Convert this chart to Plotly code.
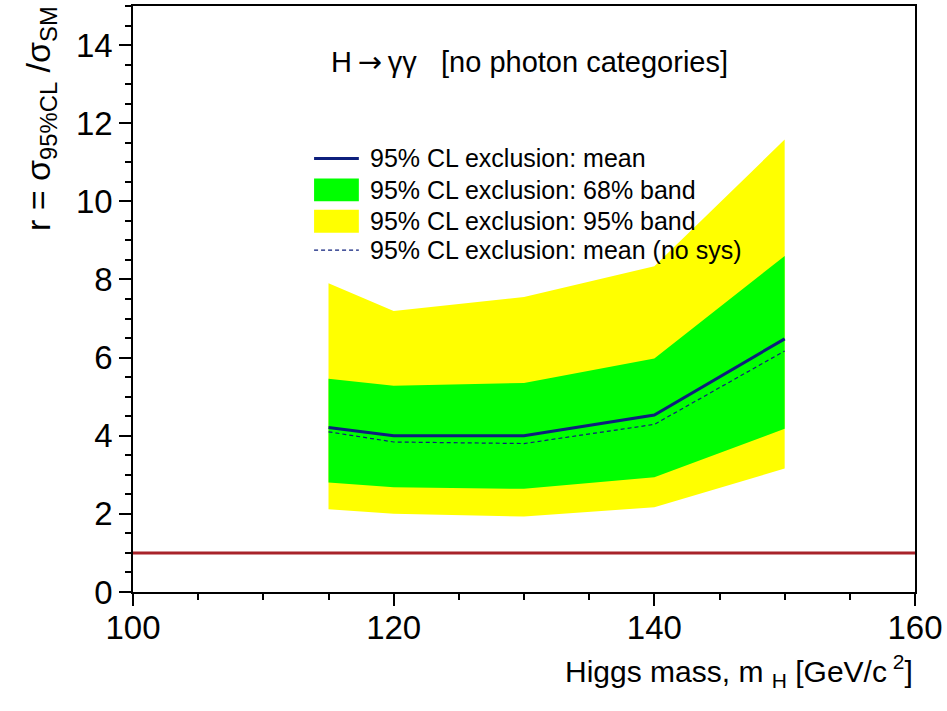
import plotly.graph_objects as go

# ---- data ----
mass = [115, 120, 130, 140, 150]
band95_hi = [7.90, 7.19, 7.55, 8.34, 11.58]
band68_hi = [5.46, 5.28, 5.35, 5.98, 8.60]
mean_excl = [4.21, 4.00, 4.00, 4.53, 6.48]
mean_nosys = [4.10, 3.84, 3.80, 4.29, 6.17]
band68_lo = [2.80, 2.68, 2.64, 2.94, 4.18]
band95_lo = [2.12, 2.00, 1.93, 2.17, 3.16]
sm_x = [100, 160]
sm_y = [1, 1]

x_ticks = [100, 120, 140, 160]
y_ticks = [0, 2, 4, 6, 8, 10, 12, 14]

legend_labels = [
    "95% CL exclusion: mean",
    "95% CL exclusion: 68% band",
    "95% CL exclusion: 95% band",
    "95% CL exclusion: mean (no sys)",
]

YELLOW = "#ffff00"
GREEN = "#00ff00"
NAVY = "#0d1f7c"
RED = "#a8232a"
FONT = "Liberation Sans, Arial, sans-serif"

fig = go.Figure()

def band(lo, hi, color):
    xs = list(mass) + list(mass)[::-1]
    ys = list(hi) + list(lo)[::-1]
    fig.add_trace(go.Scatter(x=xs, y=ys, fill="toself", fillcolor=color,
                             mode="lines", line=dict(width=0, color=color),
                             hoverinfo="skip", showlegend=False))

band(band95_lo, band95_hi, YELLOW)
band(band68_lo, band68_hi, GREEN)

fig.add_trace(go.Scatter(x=mass, y=mean_nosys, mode="lines",
                         line=dict(color=NAVY, width=1.2, dash="4px,3px"),
                         showlegend=False))
fig.add_trace(go.Scatter(x=mass, y=mean_excl, mode="lines",
                         line=dict(color=NAVY, width=3),
                         showlegend=False))
fig.add_trace(go.Scatter(x=sm_x, y=sm_y, mode="lines",
                         line=dict(color=RED, width=3),
                         showlegend=False))

# ---- manual legend (paper coordinates) ----
L = 133; R = 919; T = 4; B = 592
def px(xp):
    return (xp - L) / (R - L)
def py(yp):
    return (B - yp) / (B - T)

rows = [157, 188.5, 220, 249]
sx0, sx1, tx = px(315), px(360), px(369)
shapes = []
shapes.append(dict(type="line", xref="paper", yref="paper", x0=sx0, x1=sx1,
                   y0=py(rows[0]), y1=py(rows[0]), line=dict(color=NAVY, width=3)))
shapes.append(dict(type="rect", xref="paper", yref="paper", x0=sx0, x1=sx1,
                   y0=py(rows[1] + 11.5), y1=py(rows[1] - 11.5),
                   fillcolor=GREEN, line=dict(width=0)))
shapes.append(dict(type="rect", xref="paper", yref="paper", x0=sx0, x1=sx1,
                   y0=py(rows[2] + 11.5), y1=py(rows[2] - 11.5),
                   fillcolor=YELLOW, line=dict(width=0)))
shapes.append(dict(type="line", xref="paper", yref="paper", x0=sx0, x1=sx1,
                   y0=py(rows[3]), y1=py(rows[3]),
                   line=dict(color=NAVY, width=1.2, dash="4px,3px")))

annotations = []
for lab, r in zip(legend_labels, rows):
    annotations.append(dict(text=lab, xref="paper", yref="paper", x=tx, y=py(r),
                            xanchor="left", yanchor="middle", showarrow=False,
                            font=dict(family=FONT, size=25, color="black")))

# plot label
annotations.append(dict(
    text="H\u2009<span style='font-family:DejaVu Sans'>\u2192</span>\u2009\u03b3\u03b3\u00a0\u00a0\u00a0[no photon categories]",
    xref="paper", yref="paper", x=px(532), y=py(60),
    xanchor="center", yanchor="middle", showarrow=False,
    font=dict(family=FONT, size=29, color="black")))

# axis titles
annotations.append(dict(text="r = \u03c3<sub>95%CL</sub> /\u03c3<sub>SM</sub>",
                        xref="paper", yref="paper", x=px(40), y=py(2),
                        xanchor="center", yanchor="top", textangle=-90,
                        showarrow=False,
                        font=dict(family=FONT, size=34, color="black")))
annotations.append(dict(text="Higgs mass, m\u00a0<sub>H</sub>\u00a0[GeV/c<sup>\u00a02</sup>]",
                        xref="paper", yref="paper", x=1.0, y=py(648),
                        xanchor="right", yanchor="top", showarrow=False,
                        font=dict(family=FONT, size=30, color="black")))

axis_common = dict(showgrid=False, zeroline=False, showline=True, linecolor="black",
                   linewidth=1.5, mirror=True, ticks="outside", ticklen=12,
                   tickwidth=1.5, tickcolor="black",
                   tickfont=dict(family=FONT, size=33, color="black"))

fig.update_layout(
    width=947, height=711,
    margin=dict(l=L, r=947 - R, t=T, b=711 - B),
    paper_bgcolor="white", plot_bgcolor="white",
    showlegend=False,
    shapes=shapes, annotations=annotations,
    xaxis=dict(range=[100, 160], tickvals=x_ticks, ticktext=[str(v) for v in x_ticks],
               ticklabelstandoff=-6,
               minor=dict(dtick=5, tick0=100, ticks="outside", ticklen=6,
                          tickwidth=1.5, tickcolor="black"),
               **axis_common),
    yaxis=dict(range=[0, 15], tickvals=y_ticks, ticktext=[str(v) for v in y_ticks],
               minor=dict(dtick=0.5, tick0=0, ticks="outside", ticklen=6,
                          tickwidth=1.5, tickcolor="black"),
               **axis_common),
)

fig.write_html("out.html")
